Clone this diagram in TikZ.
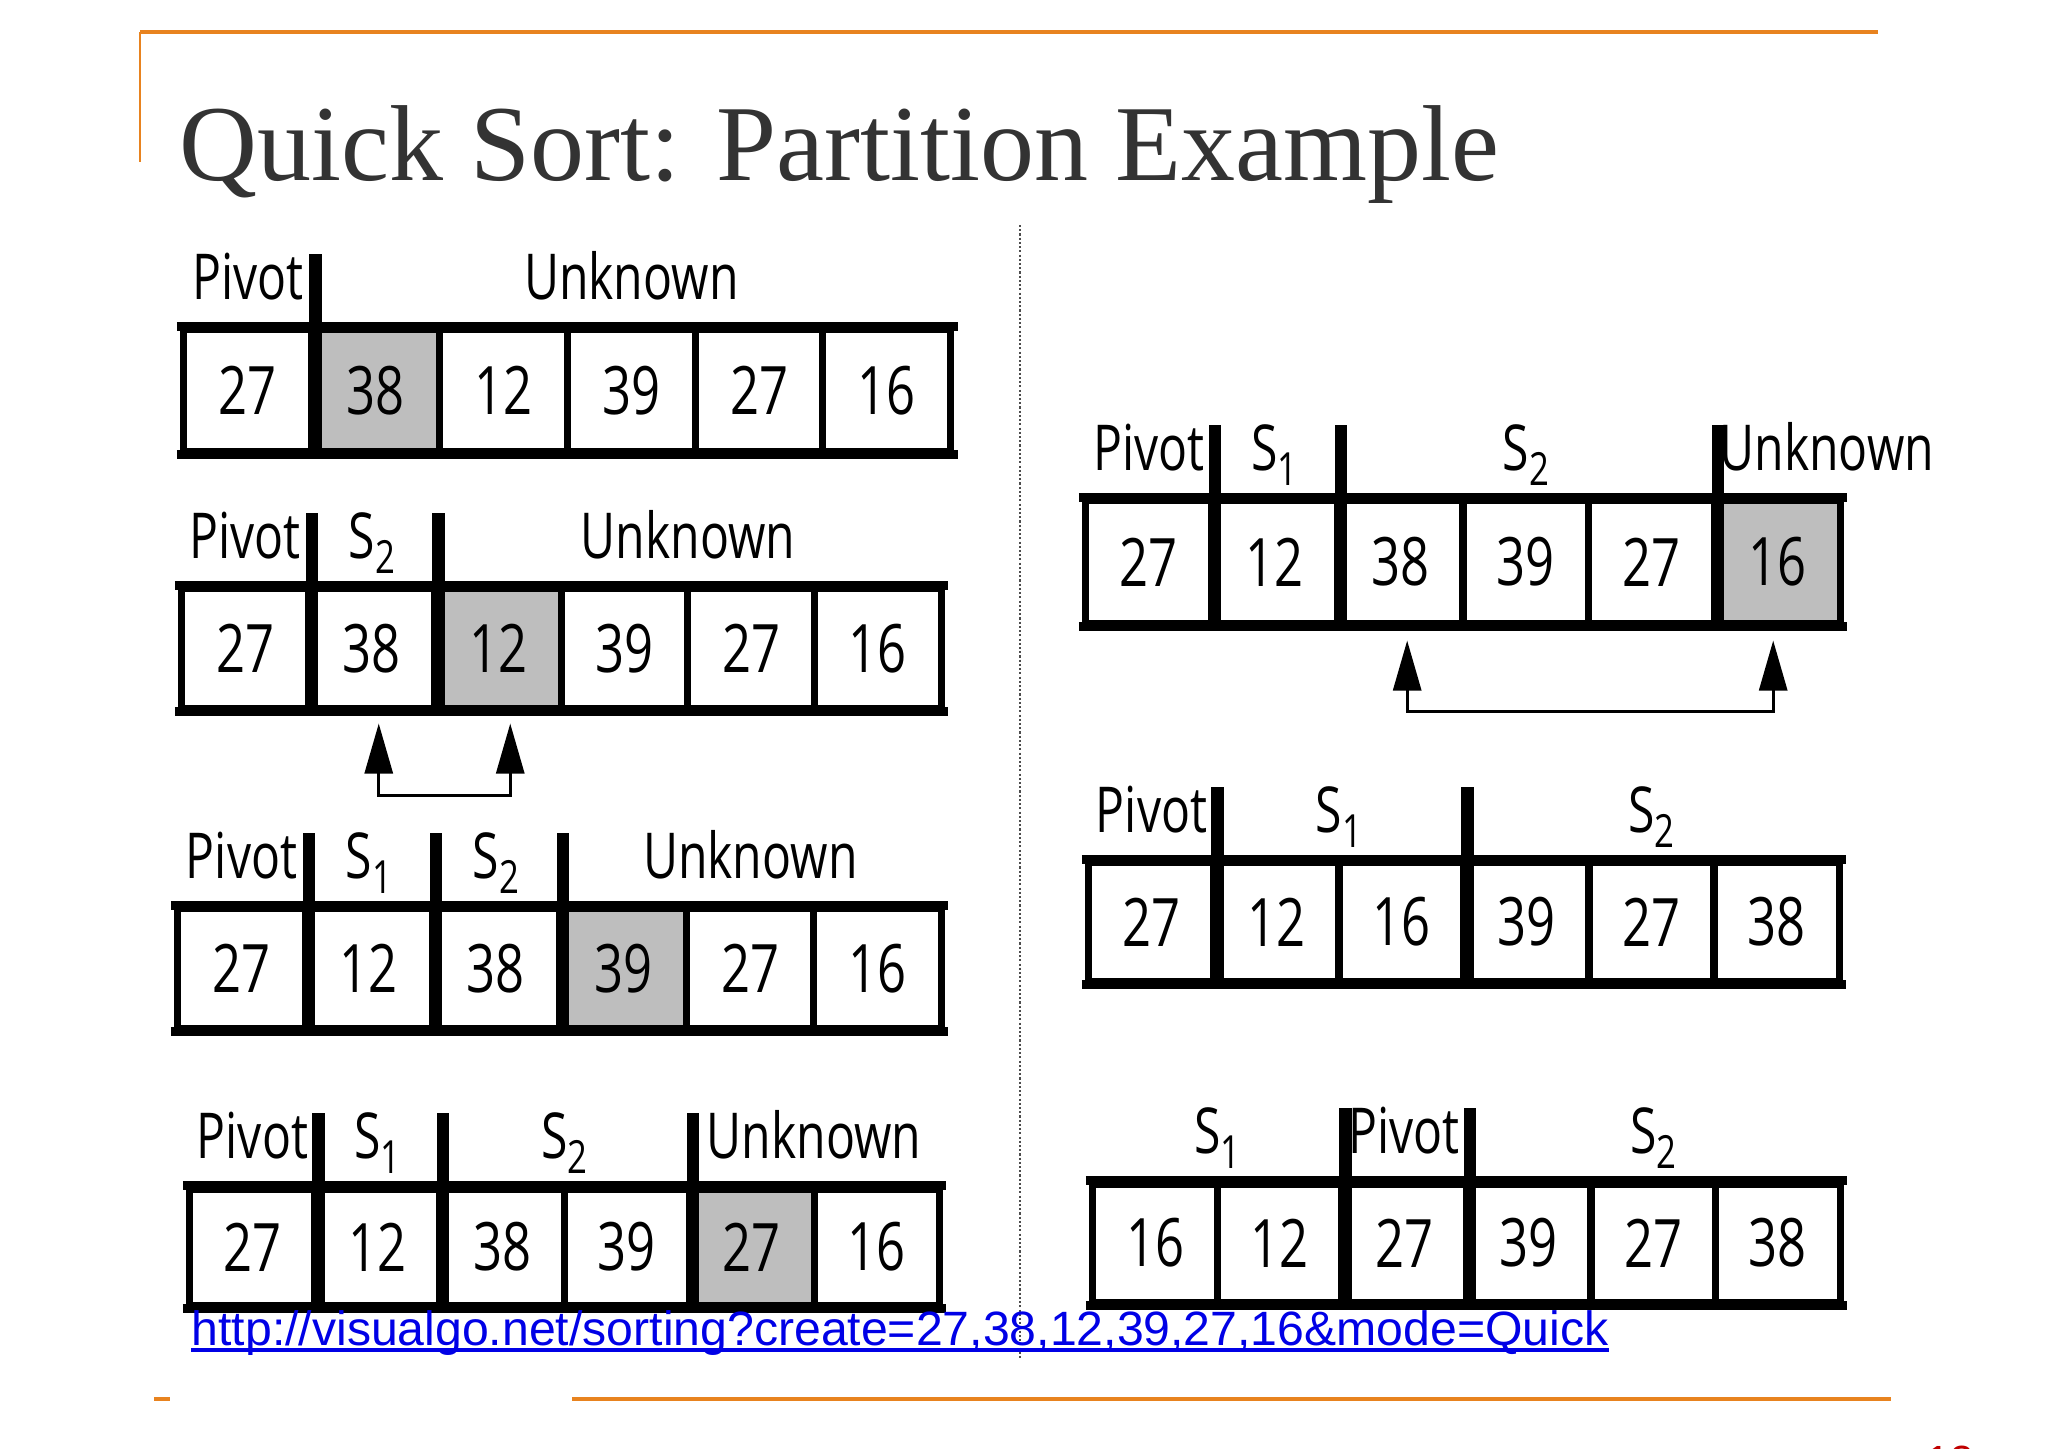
\documentclass[tikz,border=0pt]{standalone}
\usepackage{fontspec}
\usepackage{tikz}
\usetikzlibrary{arrows.meta,calc}
\newfontfamily\titlefont{Liberation Serif}
\newfontfamily\cellfont[FakeStretch=0.76]{Open Sans}
\newfontfamily\linkfont{Liberation Sans}
\definecolor{slideorange}{RGB}{232,131,31}
\definecolor{titlegray}{RGB}{51,51,51}
\definecolor{cellgray}{RGB}{190,190,190}
\definecolor{linkblue}{RGB}{0,0,230}
\definecolor{pagered}{RGB}{192,0,0}
\newcommand{\subidx}[1]{\raisebox{-0.15cm}{\fontsize{13}{13}\selectfont #1}}

\begin{document}
\begin{tikzpicture}[
    x=0.01cm, y=-0.01cm,
    cell/.style={draw, line width=2pt, inner sep=0pt, font=\cellfont\fontsize{19}{19}\selectfont},
    rim/.style={line width=2.6pt, shorten <=-1pt, shorten >=-1pt},
    bar/.style={line width=3.5pt},
    lab/.style={anchor=base, inner sep=0pt, font=\cellfont\fontsize{18}{18}\selectfont},
    swap/.style={{Triangle[length=5mm,width=2.8mm]}-{Triangle[length=5mm,width=2.8mm]}, line width=0.85pt},
    frame/.style={draw=slideorange},
    divider/.style={draw=black!70, line width=0.45pt, dash pattern=on 0.6pt off 0.6pt}
  ]
  \useasboundingbox (0,0) rectangle (2048,1448);

  % slide frame
  \draw[frame, line width=1.4pt] (140,32) -- (1878,32);
  \draw[frame, line width=0.6pt] (140,32) -- (140,162);
  \draw[frame, line width=1.2pt] (572,1399) -- (1891,1399);
  \draw[frame, line width=1.2pt] (154,1399) -- (170,1399);
  \node[anchor=base west, inner sep=0pt, text=titlegray, font=\titlefont\fontsize{30.7}{36}\selectfont] (title) at (179,180) {Quick Sort: Partition Example};
  \draw[divider] (1020,225) -- (1020,1358);

  % left column, step 1
  \begin{scope}[shift={(184,330)}]
    \foreach \v/\f [count=\i] in {27/white,38/cellgray,12/white,39/white,27/white,16/white}
      \node[cell, fill=\f, minimum width=1.278cm, minimum height=1.21cm] (a1c\i) at ({(\i-.5)*127.8},60.5) {\v};
  \end{scope}
  \draw[rim] (a1c1.north west) -- (a1c6.north east);
  \draw[rim] (a1c1.south west) -- (a1c6.south east);
  \draw[bar] ([yshift=0.72cm]a1c1.north east) -- (a1c1.south east);
  \node[lab, yshift=0.27cm] (a1pivot) at (a1c1.north) {Pivot};
  \node[lab, yshift=0.27cm] (a1unk) at ($(a1c2.north)!.5!(a1c6.north)$) {Unknown};

  % left column, step 2
  \begin{scope}[shift={(182,589)}]
    \foreach \v/\f [count=\i] in {27/white,38/white,12/cellgray,39/white,27/white,16/white}
      \node[cell, fill=\f, minimum width=1.265cm, minimum height=1.19cm] (a2c\i) at ({(\i-.5)*126.5},59.5) {\v};
  \end{scope}
  \draw[rim] (a2c1.north west) -- (a2c6.north east);
  \draw[rim] (a2c1.south west) -- (a2c6.south east);
  \foreach \k in {1,2}
    \draw[bar] ([yshift=0.72cm]a2c\k.north east) -- (a2c\k.south east);
  \node[lab, yshift=0.27cm] (a2pivot) at (a2c1.north) {Pivot};
  \node[lab, yshift=0.27cm] (a2s2) at (a2c2.north) {S\subidx{2}};
  \node[lab, yshift=0.27cm] (a2unk) at ($(a2c3.north)!.5!(a2c6.north)$) {Unknown};
  \draw[swap] ([shift={(7,12)}]a2c2.south) -- ++(0,72) -| ([shift={(12,12)}]a2c3.south);

  % left column, step 3
  \begin{scope}[shift={(178,909)}]
    \foreach \v/\f [count=\i] in {27/white,12/white,38/white,39/cellgray,27/white,16/white}
      \node[cell, fill=\f, minimum width=1.2717cm, minimum height=1.19cm] (a3c\i) at ({(\i-.5)*127.17},59.5) {\v};
  \end{scope}
  \draw[rim] (a3c1.north west) -- (a3c6.north east);
  \draw[rim] (a3c1.south west) -- (a3c6.south east);
  \foreach \k in {1,2,3}
    \draw[bar] ([yshift=0.72cm]a3c\k.north east) -- (a3c\k.south east);
  \node[lab, yshift=0.27cm] (a3pivot) at (a3c1.north) {Pivot};
  \node[lab, yshift=0.27cm] (a3s1) at (a3c2.north) {S\subidx{1}};
  \node[lab, yshift=0.27cm] (a3s2) at (a3c3.north) {S\subidx{2}};
  \node[lab, yshift=0.27cm] (a3unk) at ($(a3c4.north)!.5!(a3c6.north)$) {Unknown};

  % left column, step 4
  \begin{scope}[shift={(190,1189)}]
    \foreach \v/\f [count=\i] in {27/white,12/white,38/white,39/white,27/cellgray,16/white}
      \node[cell, fill=\f, minimum width=1.2483cm, minimum height=1.16cm] (a4c\i) at ({(\i-.5)*124.83},58) {\v};
  \end{scope}
  \draw[rim] (a4c1.north west) -- (a4c6.north east);
  \draw[rim] (a4c1.south west) -- (a4c6.south east);
  \foreach \k in {1,2,4}
    \draw[bar] ([yshift=0.72cm]a4c\k.north east) -- (a4c\k.south east);
  \node[lab, yshift=0.27cm] (a4pivot) at (a4c1.north) {Pivot};
  \node[lab, yshift=0.27cm] (a4s1) at (a4c2.north) {S\subidx{1}};
  \node[lab, yshift=0.27cm] (a4s2) at ($(a4c3.north)!.5!(a4c4.north)$) {S\subidx{2}};
  \node[lab, yshift=0.27cm] (a4unk) at ($(a4c5.north)!.5!(a4c6.north)$) {Unknown};

  % right column, step 5
  \begin{scope}[shift={(1086,501)}]
    \foreach \v/\f [count=\i] in {27/white,12/white,38/white,39/white,27/white,16/cellgray}
      \node[cell, fill=\f, minimum width=1.2567cm, minimum height=1.22cm] (b1c\i) at ({(\i-.5)*125.67},61) {\v};
  \end{scope}
  \draw[rim] (b1c1.north west) -- (b1c6.north east);
  \draw[rim] (b1c1.south west) -- (b1c6.south east);
  \foreach \k in {1,2,5}
    \draw[bar] ([yshift=0.72cm]b1c\k.north east) -- (b1c\k.south east);
  \node[lab, yshift=0.27cm] (b1pivot) at (b1c1.north) {Pivot};
  \node[lab, yshift=0.27cm] (b1s1) at (b1c2.north) {S\subidx{1}};
  \node[lab, yshift=0.27cm] (b1s2) at ($(b1c3.north)!.5!(b1c5.north)$) {S\subidx{2}};
  \node[lab, anchor=base west, xshift=0.08cm, yshift=0.27cm] (b1unk) at (b1c6.north west) {Unknown};
  \draw[swap] ([shift={(7,14)}]b1c3.south) -- ++(0,71) -| ([shift={(-4,14)}]b1c6.south);

  % right column, step 6
  \begin{scope}[shift={(1089,863)}]
    \foreach \v [count=\i] in {27,12,16,39,27,38}
      \node[cell, minimum width=1.25cm, minimum height=1.18cm] (b2c\i) at ({(\i-.5)*125},59) {\v};
  \end{scope}
  \draw[rim] (b2c1.north west) -- (b2c6.north east);
  \draw[rim] (b2c1.south west) -- (b2c6.south east);
  \foreach \k in {1,3}
    \draw[bar] ([yshift=0.72cm]b2c\k.north east) -- (b2c\k.south east);
  \node[lab, yshift=0.27cm] (b2pivot) at (b2c1.north) {Pivot};
  \node[lab, yshift=0.27cm] (b2s1) at ($(b2c2.north)!.5!(b2c3.north)$) {S\subidx{1}};
  \node[lab, yshift=0.27cm] (b2s2) at ($(b2c4.north)!.5!(b2c6.north)$) {S\subidx{2}};

  % right column, final
  \begin{scope}[shift={(1093,1184)}]
    \foreach \v [count=\i] in {16,12,27,39,27,38}
      \node[cell, minimum width=1.245cm, minimum height=1.18cm] (b3c\i) at ({(\i-.5)*124.5},59) {\v};
  \end{scope}
  \draw[rim] (b3c1.north west) -- (b3c6.north east);
  \draw[rim] (b3c1.south west) -- (b3c6.south east);
  \foreach \k in {2,3}
    \draw[bar] ([yshift=0.72cm]b3c\k.north east) -- (b3c\k.south east);
  \node[lab, yshift=0.27cm] (b3s1) at ($(b3c1.north)!.5!(b3c2.north)$) {S\subidx{1}};
  \node[lab, yshift=0.27cm] (b3pivot) at (b3c3.north) {Pivot};
  \node[lab, yshift=0.27cm] (b3s2) at ($(b3c4.north)!.5!(b3c6.north)$) {S\subidx{2}};

  % link and page number
  \node[anchor=base west, inner sep=0pt, text=linkblue, font=\linkfont\fontsize{13.7}{14}\selectfont] (link) at (191,1345) {http://visualgo.net/sorting?create=27,38,12,39,27,16\&mode=Quick};
  \draw[linkblue, line width=0.9pt] ([yshift=-0.05cm]link.base west) -- ([yshift=-0.05cm]link.base east);
  \node[anchor=north west, inner sep=0pt, text=pagered, font=\linkfont\fontsize{12}{12}\selectfont] (pagenum) at (1926,1445) {13};
\end{tikzpicture}
\end{document}
